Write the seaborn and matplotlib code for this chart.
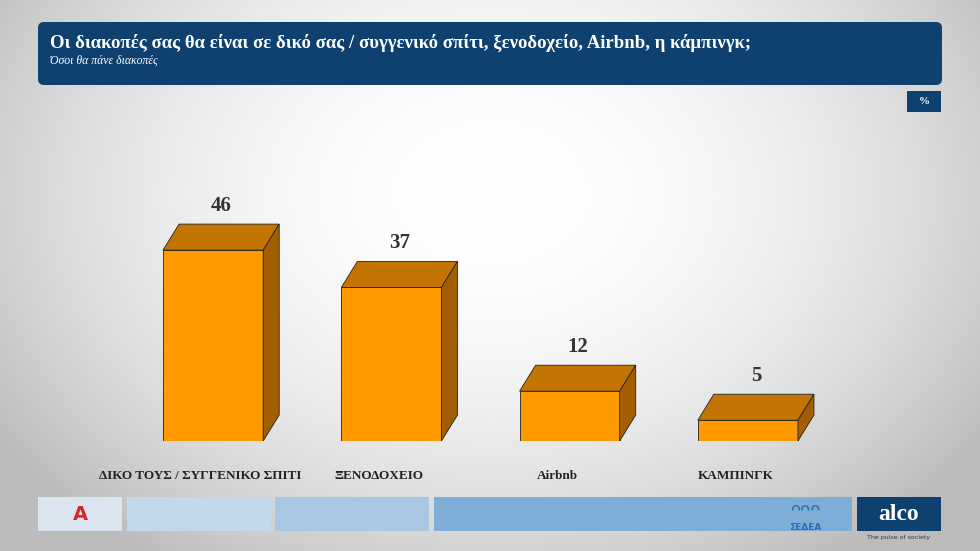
import numpy as np
import matplotlib
matplotlib.use("Agg")
import matplotlib.pyplot as plt
from matplotlib.patches import Polygon, Rectangle, FancyBboxPatch
import seaborn as sns
import pandas as pd

categories = ["ΔΙΚΟ ΤΟΥΣ / ΣΥΓΓΕΝΙΚΟ ΣΠΙΤΙ", "ΞΕΝΟΔΟΧΕΙΟ", "Airbnb", "ΚΑΜΠΙΝΓΚ"]
values = [46, 37, 12, 5]
title = "Οι διακοπές σας θα είναι σε δικό σας / συγγενικό σπίτι, ξενοδοχείο, Airbnb, η κάμπινγκ;"
subtitle = "Όσοι θα πάνε διακοπές"

sns.set_theme(style="white")
plt.rcParams['font.family'] = ['Liberation Serif', 'DejaVu Serif']

W, H = 980, 551
fig = plt.figure(figsize=(W/100, H/100), dpi=100)

# background gradient
bg = fig.add_axes([0, 0, 1, 1])
yy, xx = np.mgrid[0:H, 0:W]
d = np.sqrt(((xx - W*0.5)/(W*0.6))**2 + ((yy - H*0.35)/(H*0.8))**2)
g = np.clip(1.0 - 0.26*d**2, 0.74, 1.0)
bg.imshow(np.dstack([g, g, g]), extent=[0, W, H, 0], aspect='auto')
bg.set_xlim(0, W); bg.set_ylim(H, 0); bg.axis('off')

navy = "#0E4170"
bg.add_patch(FancyBboxPatch((38, 22), 904, 63, boxstyle="round,pad=0,rounding_size=6", fc=navy, ec="none"))
bg.text(50, 43, title, color="white", fontsize=13.5, fontweight="bold", va="center")
bg.text(50, 61, subtitle, color="white", fontsize=8.5, fontstyle="italic", va="center")
bg.add_patch(Rectangle((907, 91), 34, 21, fc=navy, ec="none"))
bg.text(924, 102, "%", color="white", fontsize=8, fontweight="bold", ha="center", va="center")

# bottom strips
for x0, x1, c in [(38, 122, "#dbe5ef"), (127, 271, "#c4d8ec"), (275, 429, "#a7c7e5"), (434, 852, "#7eaed8")]:
    bg.add_patch(Rectangle((x0, 497), x1-x0, 34, fc=c, ec="none"))
bg.text(80, 514, "A", color="#d7262e", fontsize=14, fontweight="bold", ha="center", va="center", family="DejaVu Sans")
bg.text(805, 527, "ΣΕΔΕΑ", color="#2a6db0", fontsize=6.5, fontweight="bold", ha="center", va="center", family="DejaVu Sans")
bg.text(805, 510, "ᴖᴖᴖ", color="#2a6db0", fontsize=12, ha="center", va="center", family="DejaVu Sans")
bg.add_patch(Rectangle((857, 497), 84, 34, fc=navy, ec="none"))
bg.text(899, 514, "alco", color="white", fontsize=17, fontweight="bold", ha="center", va="center")
bg.text(899, 538, "The pulse of society", color="#333333", fontsize=4.5, ha="center", va="center", family="DejaVu Sans")

# bar axes
ax = fig.add_axes([124/W, (H-441)/H, (837-124)/W, 249/H])
df = pd.DataFrame({"cat": categories, "val": values})
bw = 100/178
sns.barplot(data=df, x="cat", y="val", ax=ax, color="#FF9900", width=bw,
            saturation=1, edgecolor="#222222", linewidth=0.6, zorder=3)
ax.set_xlim(-0.5, 3.5); ax.set_ylim(0, 60)
ax.axis('off')
dx, dy = 16/178, 26/4.15
for i, v in enumerate(values):
    l, r = i - bw/2, i + bw/2
    ax.add_patch(Polygon([(l, v), (r, v), (r+dx, v+dy), (l+dx, v+dy)], closed=True,
                         fc="#C47400", ec="#222222", lw=0.6, zorder=4))
    ax.add_patch(Polygon([(r, 0), (r+dx, dy), (r+dx, v+dy), (r, v)], closed=True,
                         fc="#A35E00", ec="#222222", lw=0.6, zorder=4))
    ax.text(i + dx/2, v + dy + 2.0, str(v), ha="center", va="bottom", fontsize=15, fontweight="bold", color="#333333")
    ax.text(i - 0.07, -8.5, categories[i], ha="center", va="center", fontsize=9.5, fontweight="bold", color="#222222", clip_on=False)

fig.savefig("out.png", dpi=100)
